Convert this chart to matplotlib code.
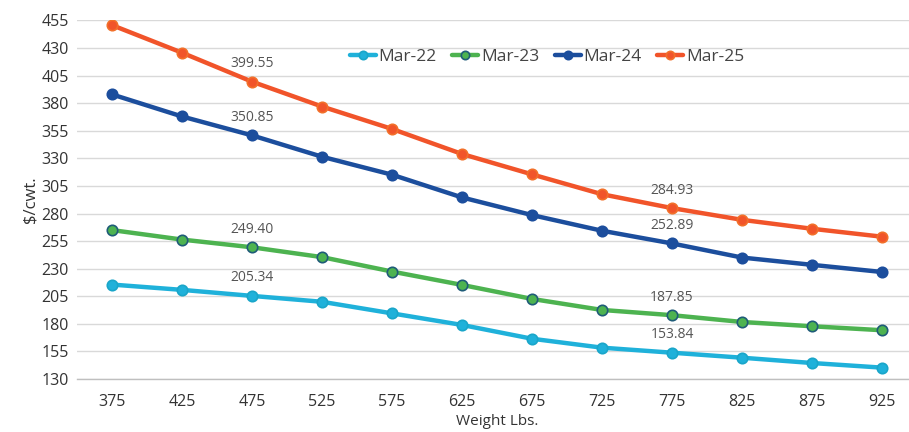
import matplotlib
matplotlib.use("Agg")
import matplotlib.pyplot as plt

plt.rcParams['font.family'] = ['Open Sans', 'DejaVu Sans']

weights = [375, 425, 475, 525, 575, 625, 675, 725, 775, 825, 875, 925]
mar22 = [215.6, 210.8, 205.34, 200.0, 189.5, 179.0, 166.5, 158.4, 153.84, 149.3, 144.5, 140.3]
mar23 = [265.0, 256.4, 249.40, 240.5, 227.4, 215.3, 202.6, 192.6, 187.85, 181.7, 177.8, 174.2]
mar24 = [388.0, 368.0, 350.85, 331.5, 315.2, 294.6, 278.6, 264.4, 252.89, 240.1, 233.5, 227.0]
mar25 = [450.8, 425.8, 399.55, 377.0, 356.7, 334.0, 315.5, 297.5, 284.93, 274.3, 266.2, 259.0]

series = [
    ("Mar-22", mar22, "#1FB1DA", "#1AA6C9"),
    ("Mar-23", mar23, "#4DB350", "#1F5C78"),
    ("Mar-24", mar24, "#1C4E9D", "#1C4E9D"),
    ("Mar-25", mar25, "#F1542A", "#F2702A"),
]
yticks = [130, 155, 180, 205, 230, 255, 280, 305, 330, 355, 380, 405, 430, 455]
label_idx = [2, 8]

fig = plt.figure(figsize=(9.09, 4.32), dpi=100)
ax = fig.add_axes([77/909, 1 - 379/432, 840/909, (379 - 20.5)/432])

x = list(range(len(weights)))
for name, vals, col, edge in series:
    ax.plot(x, vals, color=col, lw=3.2, marker='o', ms=7.5,
            markerfacecolor=col, markeredgecolor=edge, markeredgewidth=1.2,
            label=name, solid_capstyle='round', zorder=3)
    for i in label_idx:
        ax.annotate(f"{vals[i]:.2f}", (x[i], vals[i]), xytext=(0, 13),
                    textcoords='offset points', ha='center', va='center',
                    fontsize=10, color='#555555')

ax.set_xlim(-0.5, len(weights) - 0.5)
ax.set_ylim(130, 455)
ax.set_yticks(yticks)
ax.set_xticks(x)
ax.set_xticklabels([str(w) for w in weights])
ax.grid(axis='y', color='#D9D9D9', lw=1.0, zorder=0)
for s in ['top', 'right', 'left']:
    ax.spines[s].set_visible(False)
ax.spines['bottom'].set_color('#BFBFBF')
ax.spines['bottom'].set_linewidth(1.0)
ax.tick_params(axis='both', length=0, labelsize=11.5, colors='#333333')
ax.tick_params(axis='x', pad=11)
ax.tick_params(axis='y', pad=6)
ax.set_xlabel("Weight Lbs.", fontsize=11, color='#333333', labelpad=3)
ax.set_ylabel("$/cwt.", fontsize=12, color='#333333', labelpad=2)

fig.legend(loc='center', bbox_to_anchor=(547/909, 1 - 57/432), ncol=4, frameon=False,
           fontsize=12.5, handlelength=1.5, handletextpad=0.15, columnspacing=0.9,
           markerscale=0.8, labelcolor='#444444')

fig.savefig("out.png", dpi=100)
